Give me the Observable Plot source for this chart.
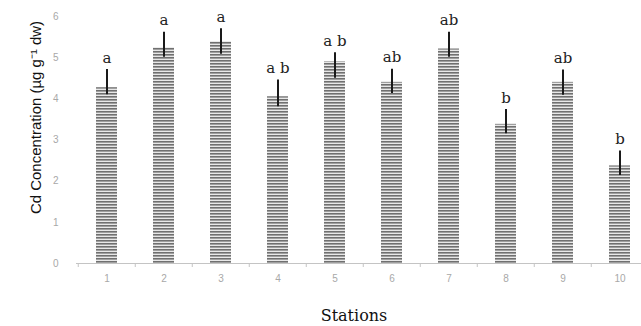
<!DOCTYPE html>
<html>
<head>
<meta charset="utf-8">
<script src="https://cdn.jsdelivr.net/npm/d3@7"></script>
<script src="https://cdn.jsdelivr.net/npm/@observablehq/plot@0.6"></script>
<style>
  html, body { margin: 0; padding: 0; background: #fff; }
  #chart svg { display: block; }
</style>
</head>
<body>
<div id="chart"></div>
<script>
const stations = ["1", "2", "3", "4", "5", "6", "7", "8", "9", "10"];
const values = [4.27, 5.24, 5.39, 4.05, 4.90, 4.40, 5.21, 3.38, 4.40, 2.37];
const errHigh = [0.44, 0.38, 0.31, 0.41, 0.22, 0.32, 0.41, 0.36, 0.30, 0.36];
const errLow = [0.17, 0.23, 0.31, 0.24, 0.40, 0.27, 0.20, 0.23, 0.31, 0.23];
const letters = ["a", "a", "a", "a b", "a b", "ab", "ab", "b", "ab", "b"];
const yTicks = [0, 1, 2, 3, 4, 5, 6];
const xTitle = "Stations";
const yTitle = "Cd Concentration (µg g⁻¹ dw)";

const data = stations.map((s, i) => ({
  station: s, value: values[i],
  lo: values[i] - errLow[i], hi: values[i] + errHigh[i], letter: letters[i]
}));

const W = 641, H = 326;
const plot = Plot.plot({
  width: W,
  height: H,
  marginLeft: 76,
  marginRight: 0,
  marginTop: 16,
  marginBottom: 63,
  style: { fontFamily: "'Liberation Sans', Arial, sans-serif", fontSize: "10px", color: "#999", background: "#fff" },
  x: { domain: stations, range: [76, 651], paddingInner: 0.63, paddingOuter: 0.315, label: null },
  y: { domain: [0, 6], ticks: yTicks, label: null },
  marks: [
    Plot.axisY({ ticks: yTicks, tickFormat: d3.format("d"), tickSize: 0, tickPadding: 18, fill: "#a8a8a8", fontSize: 10 }),
    Plot.axisX({ tickSize: 4, stroke: "#c4c4c4", tickFormat: () => "", dx: -28.75 }),
    Plot.axisX({ tickSize: 0, tickPadding: 11, fill: "#a8a8a8", fontSize: 10 }),
    Plot.barY(data, { x: "station", y: "value", fill: "url(#stripes)" }),
    Plot.ruleY([0], { stroke: "#c4c4c4", strokeWidth: 1.2 }),
    Plot.ruleX(data, { x: "station", y1: "lo", y2: "hi", stroke: "#1a1a1a", strokeWidth: 2 }),
    Plot.text(data, { x: "station", y: "hi", text: "letter", dy: -7, lineAnchor: "bottom",
      fontFamily: "'DejaVu Serif', serif", fontSize: 15, fill: "#222" }),
    Plot.text([xTitle], { frameAnchor: "bottom", dy: 57, dx: -5, lineAnchor: "bottom",
      fontFamily: "'DejaVu Serif', serif", fontSize: 16, fill: "#111" }),
    Plot.text([yTitle], { frameAnchor: "left", textAnchor: "middle", rotate: -90, dx: -40, dy: -22.5,
      fontFamily: "'Liberation Sans', Arial, sans-serif",
      fontSize: 15, fill: "#111" })
  ]
});

const svg = d3.select(plot);
const defs = svg.insert("defs", ":first-child");
const pat = defs.append("pattern").attr("id", "stripes").attr("patternUnits", "userSpaceOnUse")
  .attr("width", 8).attr("height", 3);
pat.append("rect").attr("width", 8).attr("height", 3).attr("fill", "#e8e8e8");
pat.append("rect").attr("width", 8).attr("height", 1.6).attr("fill", "#707070");

document.getElementById("chart").appendChild(plot);

// condensed look of the y title, as in the reference
svg.selectAll("text")
  .filter(function () { return this.textContent === yTitle; })
  .attr("textLength", 193)
  .attr("lengthAdjust", "spacingAndGlyphs");
</script>
</body>
</html>
